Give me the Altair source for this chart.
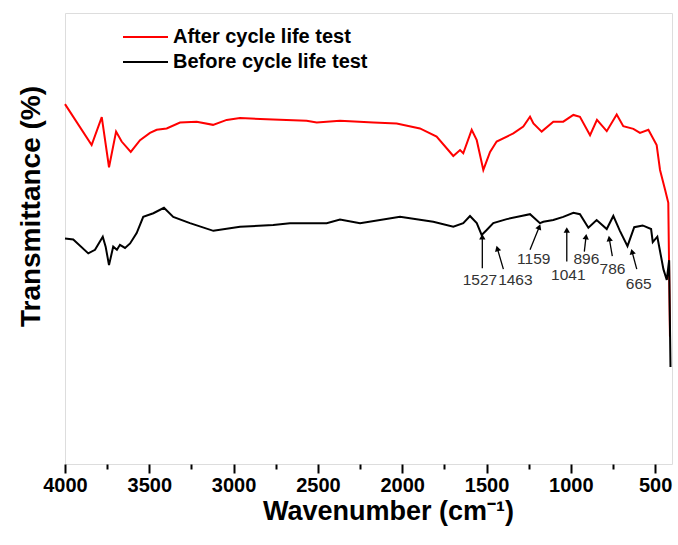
import math
import altair as alt
import pandas as pd

# ---------------- data ----------------
after_wn = [4000, 3842, 3782, 3739, 3697, 3664, 3610, 3555, 3496, 3456, 3397, 3318, 3219,
            3122, 3041, 2962, 2766, 2567, 2507, 2369, 2171, 2033, 1895, 1796, 1697,
            1657, 1638, 1588, 1558, 1519, 1479, 1440, 1341, 1282, 1242, 1222, 1173,
            1104, 1045, 985, 946, 886, 845, 787, 728, 689, 629, 590, 540, 491, 471,
            441, 422, 412]
after_t = [79.8, 70.7, 76.9, 65.8, 73.7, 71.5, 69.2, 71.8, 73.4, 74.1, 74.4, 75.7, 75.9,
           75.2, 76.3, 76.7, 76.4, 76.1, 75.7, 76.1, 75.7, 75.5, 74.4, 72.6, 68.3,
           69.6, 68.9, 74.1, 71.8, 65.2, 69.2, 71.5, 73.3, 74.8, 77.0, 75.5, 73.7,
           75.9, 75.9, 77.4, 77.0, 72.9, 76.3, 73.8, 77.5, 74.9, 74.3, 73.4, 74.1,
           70.7, 65.2, 60.8, 57.9, 28.2]

before_wn = [4000, 3951, 3862, 3822, 3776, 3759, 3739, 3714, 3692, 3674, 3644, 3614,
             3575, 3536, 3476, 3413, 3358, 3259, 3120, 2962, 2765, 2666, 2448, 2369,
             2250, 2013, 1816, 1697, 1638, 1598, 1558, 1529, 1499, 1460, 1380, 1294,
             1242, 1183, 1163, 1104, 1045, 985, 946, 896, 847, 787, 748, 709, 664,
             624, 574, 524, 514, 487, 451, 431, 417, 409]
before_t = [50.0, 49.8, 46.7, 47.5, 50.4, 48.2, 44.1, 48.2, 47.5, 48.6, 47.9, 48.9,
            51.2, 54.8, 55.6, 56.8, 54.8, 53.4, 51.7, 52.6, 53.0, 53.4, 53.4, 54.2,
            53.4, 54.8, 53.7, 52.6, 53.4, 55.0, 53.4, 50.8, 51.9, 53.4, 54.3, 55.0,
            55.4, 53.4, 53.7, 54.1, 54.8, 55.7, 55.4, 52.4, 54.1, 52.1, 55.0, 51.7,
            48.3, 52.5, 52.9, 52.1, 49.2, 50.4, 43.2, 40.8, 45.2, 21.5]

series_names = ["After cycle life test", "Before cycle life test"]
series_colors = ["#ff0000", "#000000"]

ann_label = ["1527", "1463", "1159", "1041", "896", "786", "665"]
ann_tip_wn = [1525, 1436, 1187, 1024, 910, 772, 637]
ann_tip_t = [50.4, 47.8, 52.6, 51.9, 50.4, 50.0, 47.1]
ann_tail_wn = [1525, 1400, 1242, 1024, 920, 754, 609]
ann_tail_t = [43.4, 43.2, 47.5, 44.9, 47.1, 46.1, 43.2]
ann_text_wn = [1539, 1329, 1220, 1015, 908, 753, 597]
ann_text_t = [40.8, 40.8, 45.5, 41.8, 45.4, 43.2, 39.9]

x_ticks = list(range(4000, 399, -250))

# ---------------- layout ----------------
W, H = 607, 451
X_DOMAIN = [400, 4000]
Y_DOMAIN = [0, 100]
PX_WN = W / (X_DOMAIN[1] - X_DOMAIN[0])
PX_T = H / (Y_DOMAIN[1] - Y_DOMAIN[0])
FONT = "Liberation Sans"

lines = pd.concat([
    pd.DataFrame({"wn": after_wn, "t": after_t, "series": series_names[0], "o": range(len(after_wn))}),
    pd.DataFrame({"wn": before_wn, "t": before_t, "series": series_names[1], "o": range(len(before_wn))}),
])

ann = pd.DataFrame({"label": ann_label, "tip_wn": ann_tip_wn, "tip_t": ann_tip_t,
                    "tail_wn": ann_tail_wn, "tail_t": ann_tail_t,
                    "text_wn": ann_text_wn, "text_t": ann_text_t})
dx = -(ann["tip_wn"] - ann["tail_wn"]) * PX_WN
dy = -(ann["tip_t"] - ann["tail_t"]) * PX_T
ann["angle"] = [(math.degrees(math.atan2(a, -b))) % 360 for a, b in zip(dx, dy)]

xscale = alt.Scale(domain=X_DOMAIN, reverse=True, nice=False, zero=False)
yscale = alt.Scale(domain=Y_DOMAIN, nice=False, zero=False)

x_axis = alt.Axis(
    values=x_ticks, format="d", title="Wavenumber (cm⁻¹)", grid=False, domain=False,
    labelExpr="datum.value % 500 === 0 ? datum.label : ''",
    tickSize={"condition": {"test": "datum.value % 500 === 0", "value": 9}, "value": 5},
    tickColor="black", tickWidth=2, labelFont=FONT, labelFontWeight="bold",
    labelFontSize=20, labelColor="black", labelPadding=2, labelFlush=False,
    titleFont=FONT, titleFontWeight="bold", titleFontSize=27, titleColor="black",
    titlePadding=3, titleX=323,
)
y_axis = alt.Axis(
    title="Transmittance (%)", grid=False, domain=False, ticks=False, labels=False,
    titleFont=FONT, titleFontWeight="bold", titleFontSize=28, titleColor="black",
    titlePadding=20, titleY=193,
)

line_chart = alt.Chart(lines).mark_line(strokeWidth=2, interpolate="linear").encode(
    x=alt.X("wn:Q", scale=xscale, axis=x_axis),
    y=alt.Y("t:Q", scale=yscale, axis=y_axis),
    color=alt.Color("series:N", scale=alt.Scale(domain=series_names, range=series_colors),
                    legend=alt.Legend(orient="none", legendX=70.5, legendY=14, title=None,
                                      symbolType="M-2.5,0H2.5", symbolSize=324,
                                      symbolStrokeWidth=2, labelFont=FONT,
                                      labelFontWeight="bold", labelFontSize=20,
                                      labelColor="black", labelOffset=17.5, rowPadding=5,
                                      labelLimit=0, padding=0)),
    order="o:Q",
)

arrows = alt.Chart(ann).mark_rule(color="black", strokeWidth=1.3).encode(
    x="tail_wn:Q", y="tail_t:Q", x2="tip_wn:Q", y2="tip_t:Q",
)
heads = alt.Chart(ann).mark_point(shape="triangle-up", filled=True, color="black",
                                  size=40, opacity=1).encode(
    x="tip_wn:Q", y="tip_t:Q", angle=alt.Angle("angle:Q", scale=None),
)
labels = alt.Chart(ann).mark_text(font=FONT, fontSize=15.5, color="#333333",
                                  align="center", baseline="middle").encode(
    x="text_wn:Q", y="text_t:Q", text="label:N",
)

chart = alt.layer(line_chart, arrows, heads, labels).properties(
    width=W, height=H,
    autosize=alt.AutoSizeParams(type="none"),
    padding={"left": 65, "top": 13, "right": 6, "bottom": 81},
).configure_view(stroke="black", strokeWidth=2).configure(background="white")

chart.save("out.html", embed_options={"renderer": "svg", "actions": False})
